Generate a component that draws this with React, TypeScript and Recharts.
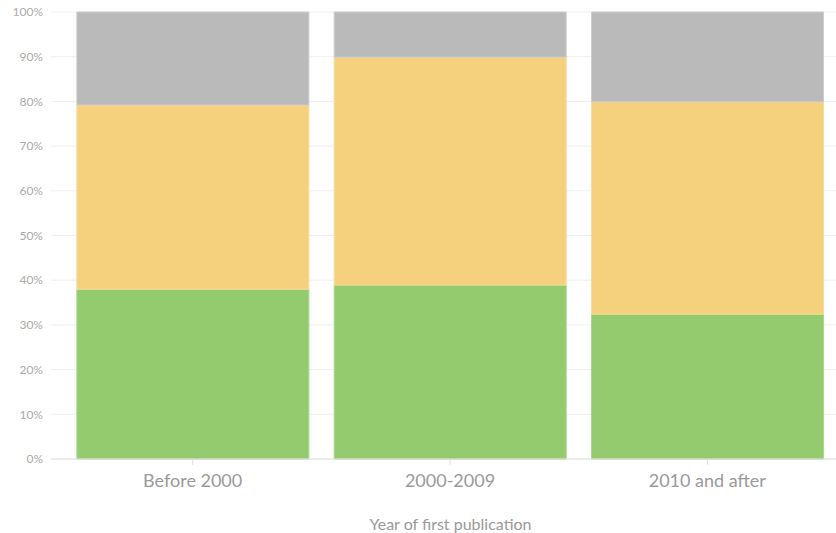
import { BarChart, Bar, XAxis, YAxis, CartesianGrid } from "recharts";

const categories = ["Before 2000", "2000-2009", "2010 and after"];
const greenShare = [38.0, 38.9, 32.4];
const yellowShare = [41.2, 51.0, 47.5];
const grayShare = [20.8, 10.1, 20.1];
const yTicks = [0, 10, 20, 30, 40, 50, 60, 70, 80, 90, 100];

const data = categories.map((name, i) => ({
  name,
  green: greenShare[i],
  yellow: yellowShare[i],
  gray: grayShare[i],
}));

export default function App() {
  return (
    <div style={{ position: "absolute", left: 0, top: 0, fontFamily: "Lato, sans-serif" }}>
      <BarChart
        width={836}
        height={533}
        data={data}
        margin={{ top: 12, right: 0, left: 0, bottom: 0 }}
        barCategoryGap="5%"
      >
        <CartesianGrid vertical={false} stroke="#efefef" />
        <YAxis
          width={51}
          domain={[0, 100]}
          ticks={yTicks}
          tickFormatter={(v: number) => `${v}%`}
          axisLine={false}
          tickLine={false}
          tick={{ fill: "#aaaaaa", fontSize: 12 }}
          interval={0}
        />
        <XAxis
          dataKey="name"
          height={74}
          padding={{ left: 13, right: 0 }}
          axisLine={{ stroke: "#e0e0e0" }}
          tickLine={{ stroke: "#e0e0e0" }}
          tick={{ fill: "#9a9a9a", fontSize: 18, dy: 7 }}
          tickSize={6}
          label={{
            value: "Year of first publication",
            position: "insideBottom",
            offset: 0,
            fill: "#999999",
            fontSize: 16,
            dx: 7,
            dy: -3,
          }}
        />
        <Bar dataKey="green" stackId="a" fill="#93cb6e" stroke="#a9d68c" isAnimationActive={false} />
        <Bar dataKey="yellow" stackId="a" fill="#f5d17e" stroke="#f7dc9a" isAnimationActive={false} />
        <Bar dataKey="gray" stackId="a" fill="#bababa" stroke="#cccccc" isAnimationActive={false} />
      </BarChart>
    </div>
  );
}
